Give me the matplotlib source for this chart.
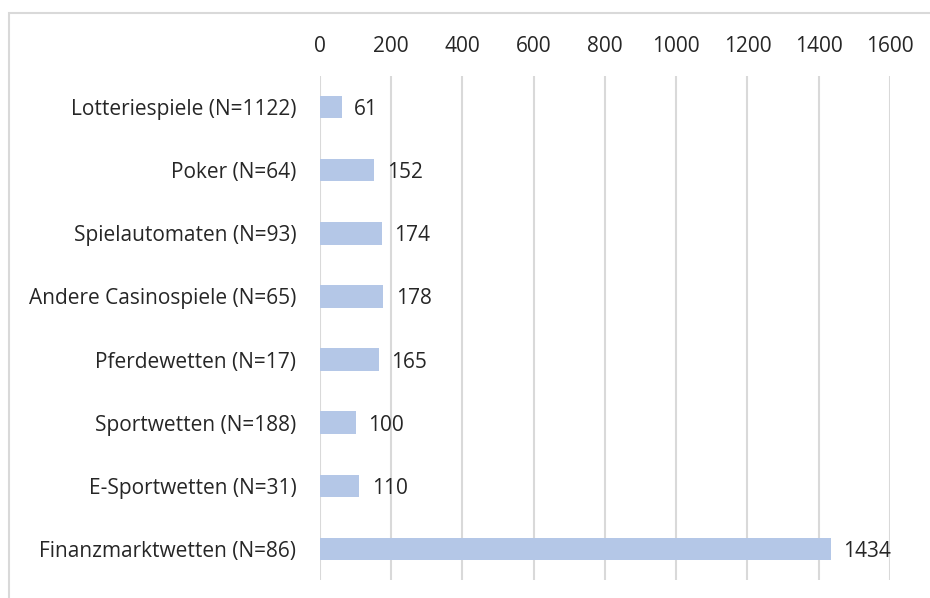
import numpy as np
import matplotlib.pyplot as plt
from matplotlib.patches import Rectangle

plt.rcParams['font.family'] = ['Open Sans', 'DejaVu Sans']

categories = ['Lotteriespiele (N=1122)', 'Poker (N=64)', 'Spielautomaten (N=93)',
              'Andere Casinospiele (N=65)', 'Pferdewetten (N=17)', 'Sportwetten (N=188)',
              'E-Sportwetten (N=31)', 'Finanzmarktwetten (N=86)']
values = [61, 152, 174, 178, 165, 100, 110, 1434]
ticks = [0, 200, 400, 600, 800, 1000, 1200, 1400, 1600]

fig = plt.figure(figsize=(9.3, 5.98), dpi=100)
ax = fig.add_axes([0.344, 0.030, 0.613, 0.843])

y = np.arange(len(categories))
ax.barh(y, values, height=0.35, color='#B4C7E7', zorder=3)
for yi, v in zip(y, values):
    ax.annotate(str(v), (v, yi), xytext=(9, 0), textcoords='offset points',
                va='center_baseline', ha='left', fontsize=15, color='#262626')

ax.set_xlim(0, 1600)
ax.set_ylim(len(categories) - 0.5, -0.5)
ax.set_xticks(ticks)
ax.set_yticks(y)
ax.set_yticklabels(categories, va='center_baseline')
ax.xaxis.tick_top()
ax.tick_params(axis='both', length=0, labelsize=15, labelcolor='#262626')
ax.tick_params(axis='x', pad=14)
ax.tick_params(axis='y', pad=17)
ax.grid(axis='x', color='#D9D9D9', linewidth=1.5, zorder=0)
for s in ax.spines.values():
    s.set_visible(False)

# chart border
fig.patches.append(Rectangle((9 / 930, -0.01), 1.0, 1 - 13 / 598 + 0.01,
                             transform=fig.transFigure, fill=False,
                             edgecolor='#D9D9D9', linewidth=1.5))

plt.savefig('out.png', dpi=100)
